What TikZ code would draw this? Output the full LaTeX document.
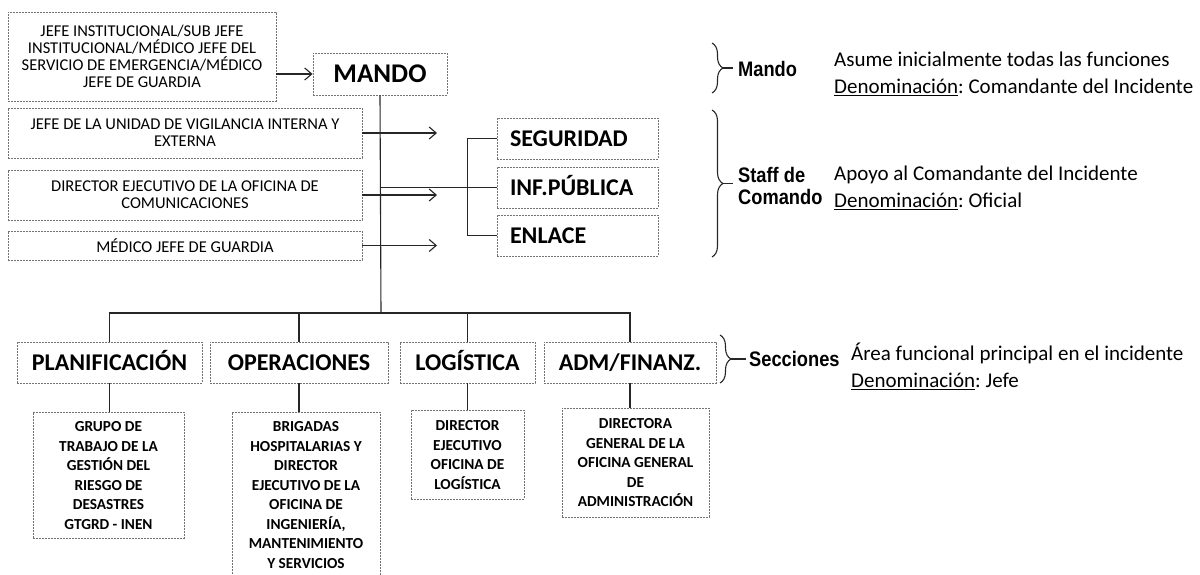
\documentclass[tikz,border=0pt]{standalone}
\usepackage{fontspec}
\setmainfont{Carlito}
\newfontfamily\tagfont[FakeStretch=0.87]{Liberation Sans}
\usetikzlibrary{arrows.meta,decorations.pathreplacing}
\frenchspacing

\newcommand{\bracewidth}{11pt}
\newcommand{\stubx}{10}
\tikzset{
  box/.style={draw=black!55, dash pattern=on 2pt off 1pt, line width=0.9pt, align=center, inner sep=0pt},
  leftbox/.style={box, minimum width=354, font=\fontsize{16.5}{16.8}\selectfont},
  headbox/.style={box, minimum height=41, text height=16, text depth=0, font=\bfseries\fontsize{24}{26}\selectfont},
  staffbox/.style={headbox, text width=135, inner xsep=13, align=left},
  subbox/.style={box, anchor=north, font=\bfseries\fontsize{15.3}{19.5}\selectfont},
  link/.style={draw=black!85, line width=1.1pt},
  arr/.style={link, -{Straight Barb[length=7pt,width=12pt]}},
  curly/.style={link, decorate, decoration={brace, amplitude=\bracewidth}},
  tag/.style={anchor=west, align=left, inner sep=0pt, font=\tagfont\bfseries\fontsize{21}{22}\selectfont},
  note/.style={anchor=west, align=left, inner sep=0pt, font=\fontsize{21}{27}\selectfont},
}

\begin{document}
\begin{tikzpicture}[x=1pt,y=-1pt]
\useasboundingbox (0,0) rectangle (1200,575);
\clip (0,0) rectangle (1200,575);

% command and the boxes on its left
\node[leftbox, minimum width=268, minimum height=89] (jefe) at (142,56.5) {JEFE INSTITUCIONAL/SUB JEFE\\INSTITUCIONAL/MÉDICO JEFE DEL\\SERVICIO DE EMERGENCIA/MÉDICO\\JEFE DE GUARDIA};
\node[leftbox, minimum height=50] (vigil) at (185,133) {JEFE DE LA UNIDAD DE VIGILANCIA INTERNA Y\\EXTERNA};
\node[leftbox, minimum height=50] (comun) at (185,195) {DIRECTOR EJECUTIVO DE LA OFICINA DE\\COMUNICACIONES};
\node[leftbox, minimum height=29] (guardia) at (185,245.5) {MÉDICO JEFE DE GUARDIA};
\node[headbox, minimum width=134, minimum height=42, text height=17.5, font=\bfseries\fontsize{27}{29}\selectfont] (mando) at (380,74) {MANDO};

% staff
\node[staffbox] (seg) at (577.5,138.5) {SEGURIDAD};
\node[staffbox] (inf) at (577.5,187.5) {INF.PÚBLICA};
\node[staffbox] (enl) at (577.5,235.5) {ENLACE};

% sections
\node[headbox, minimum width=185] (plan) at (109.5,362.5) {PLANIFICACIÓN};
\node[headbox, minimum width=178] (oper) at (299,362.5) {OPERACIONES};
\node[headbox, minimum width=135] (logi) at (467.5,362.5) {LOGÍSTICA};
\node[headbox, minimum width=172] (adm) at (630,362.5) {ADM/FINANZ.};

\node[subbox, minimum width=151, minimum height=126] (grupo) at (108.5,412) {GRUPO DE\\TRABAJO DE LA\\GESTIÓN DEL\\RIESGO DE\\DESASTRES\\GTGRD - INEN};
\node[subbox, minimum width=148, minimum height=165] (brig) at (306,412) {BRIGADAS\\HOSPITALARIAS Y\\DIRECTOR\\EJECUTIVO DE LA\\OFICINA DE\\INGENIERÍA,\\MANTENIMIENTO\\Y SERVICIOS};
\node[subbox, minimum width=113, minimum height=89] (dirlog) at (467.5,410) {DIRECTOR\\EJECUTIVO\\OFICINA DE\\LOGÍSTICA};
\node[subbox, minimum width=147, minimum height=109] (dirgen) at (635.5,408) {DIRECTORA\\GENERAL DE LA\\OFICINA GENERAL\\DE\\ADMINISTRACIÓN};

% connectors
\coordinate (tip) at (437,0);
\coordinate (bus) at (381,313);
\draw[arr] (jefe.east |- mando.west) -- (mando.west);
\foreach \src in {vigil, comun, guardia}
    \draw[arr] (\src.east) -- (\src.east -| tip);
\draw[link] (mando.south) -- (bus);
\draw[link] (mando.south |- inf.west) -- (inf.west);
\draw[link] (seg.west) -- ++(-29,0) |- (enl.west);
\draw[link] (plan.north) |- (bus) -| (adm.north);
\draw[link] (oper.north) -- (oper.north |- bus);
\draw[link] (logi.north) -- (logi.north |- bus);
\draw[link] (plan.south) -- (plan.south |- grupo.north);
\draw[link] (oper.south) -- (oper.south |- brig.north);
\draw[link] (logi.south) -- (logi.south |- dirlog.north);
\draw[link] (adm.south) -- (adm.south |- dirgen.north);

% braces and their notes
\draw[curly] (712,43) -- (712,93);
\draw[curly] (712,110) -- (712,257);
\draw[curly] (720,335) -- (720,383);
\node[tag] (mandotag) at (738,69) {Mando};
\node[tag] (stafftag) at (738,186) {Staff de\\Comando};
\node[tag] (secctag) at (749,359) {Secciones};
\draw[link] (723,68) -- ++(\stubx,0);
\draw[link] (723,183.5) -- ++(\stubx,0);
\draw[link] (731,359) -- ++(\stubx+5,0);
\node[note] (mandonote) at (834,73.5) {Asume inicialmente todas las funciones\\\underline{Denominación}: Comandante del Incidente};
\node[note] (staffnote) at (834,187.5) {Apoyo al Comandante del Incidente\\\underline{Denominación}: Oficial};
\node[note] (seccnote) at (851,366.5) {Área funcional principal en el incidente\\\underline{Denominación}: Jefe};

\end{tikzpicture}
\end{document}
